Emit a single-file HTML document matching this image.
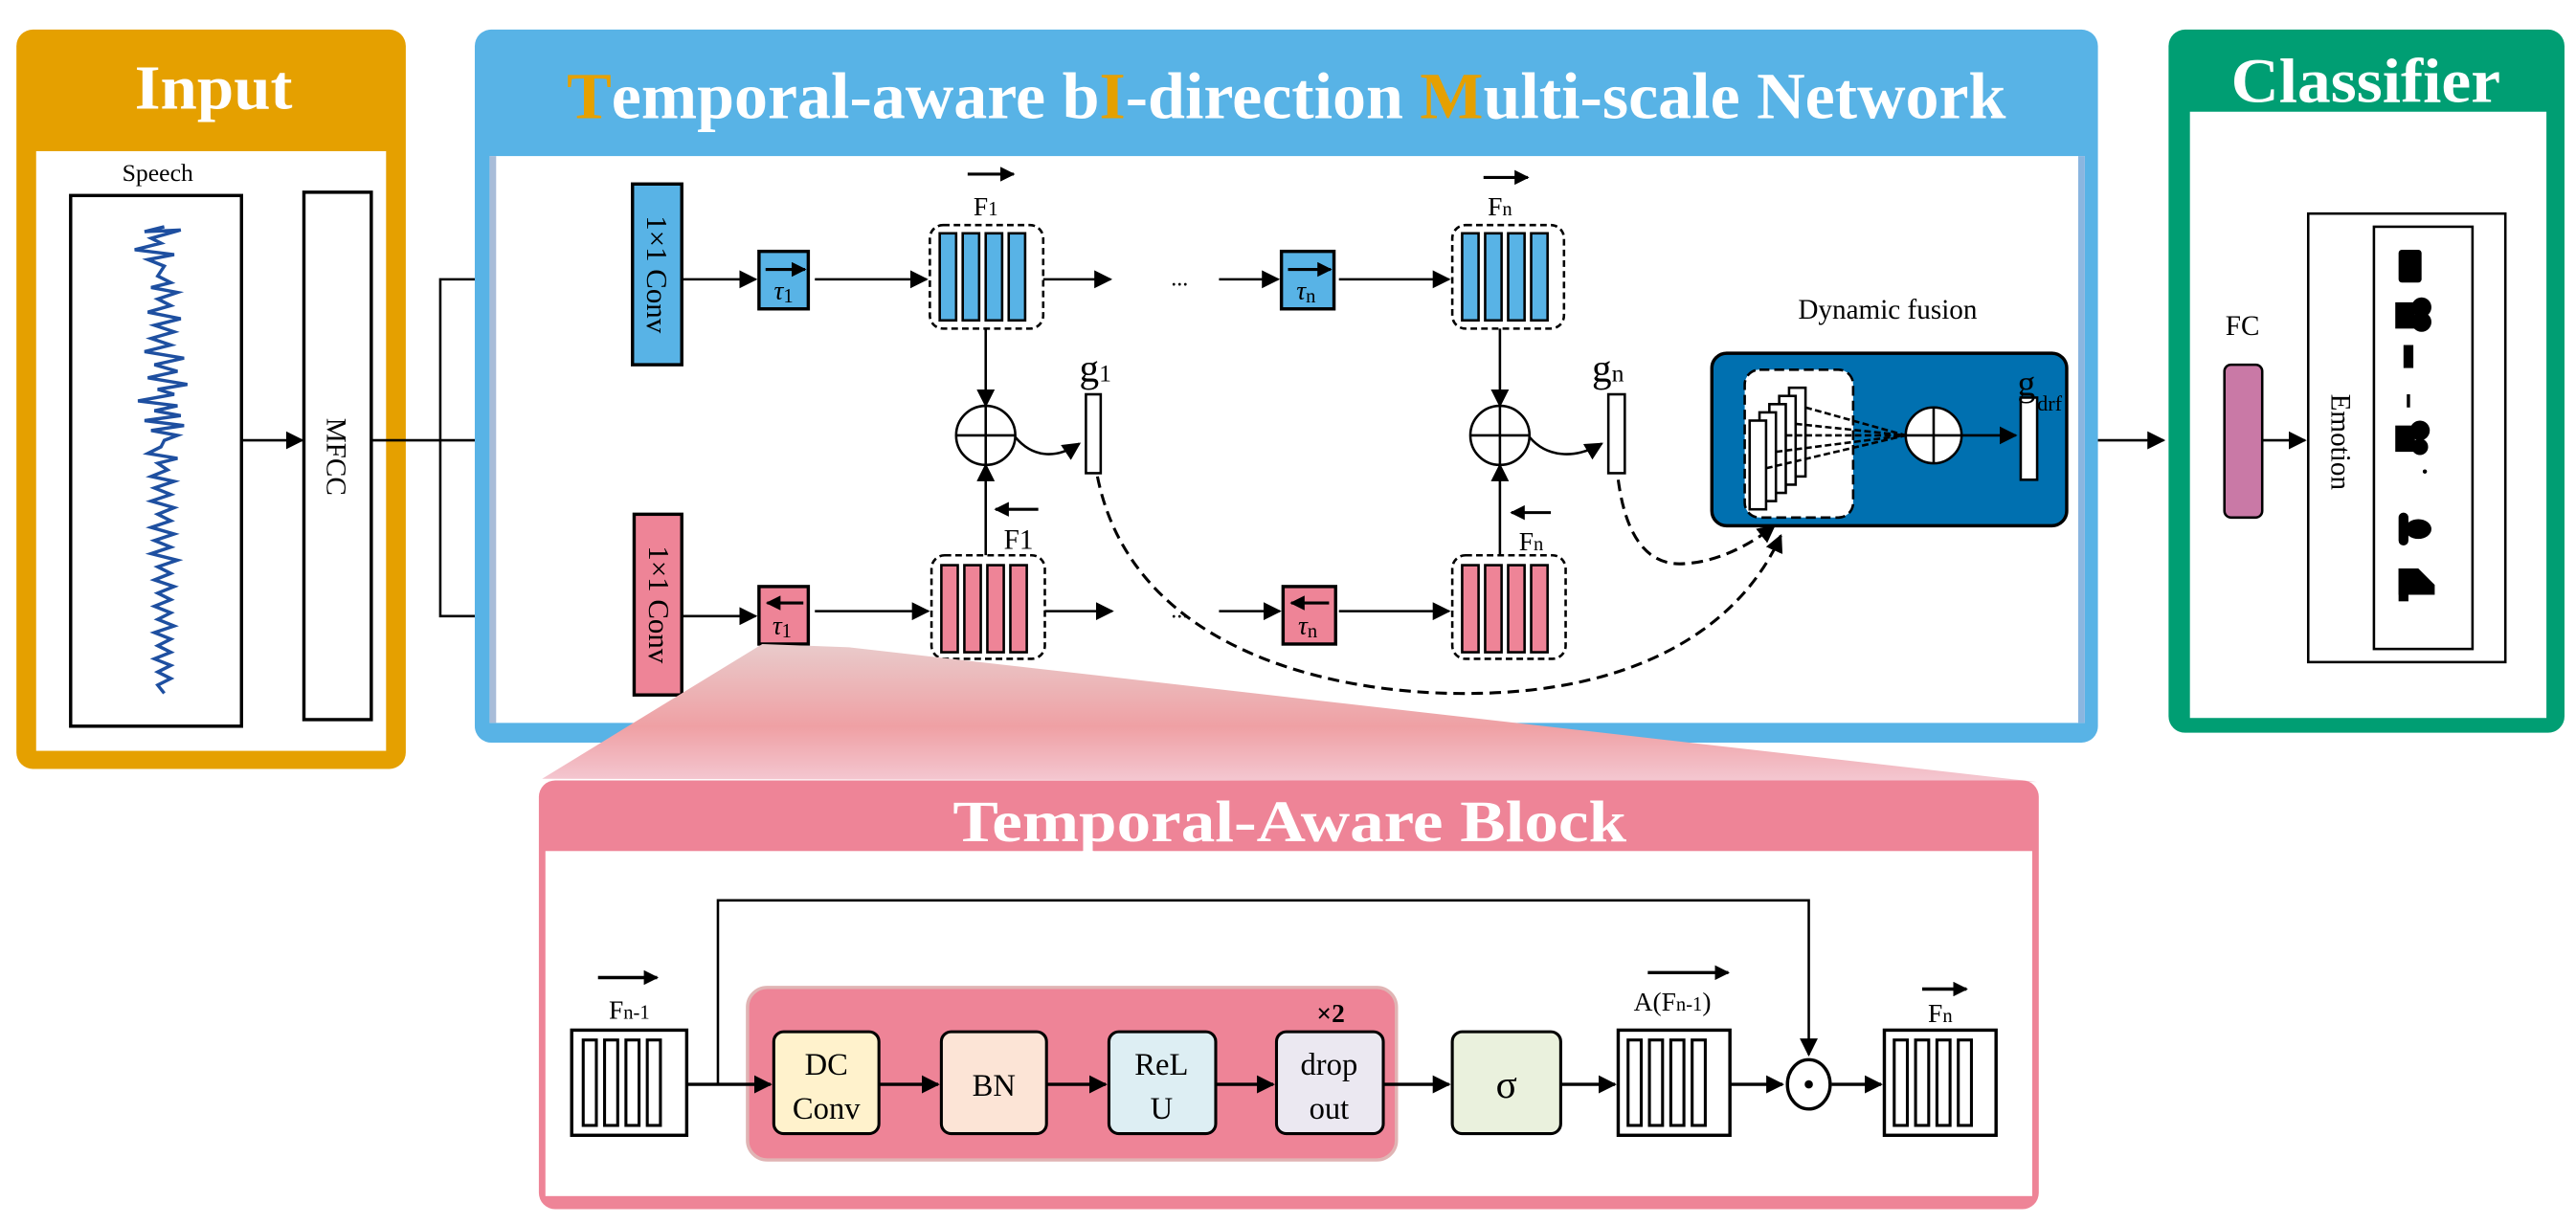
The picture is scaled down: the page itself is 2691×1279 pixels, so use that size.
<!DOCTYPE html>
<html><head><meta charset="utf-8"><style>
html,body{margin:0;padding:0;background:#fff;}
svg{display:block;}
text{font-family:"Liberation Serif",serif;}
</style></head><body>
<svg width="2691" height="1279" viewBox="0 0 1568 745" preserveAspectRatio="none" xmlns="http://www.w3.org/2000/svg">
<defs>
<marker id="a" viewBox="0 0 10 10" refX="9" refY="5" markerWidth="9" markerHeight="9" orient="auto-start-reverse" markerUnits="userSpaceOnUse"><path d="M0,0 L10,5 L0,10 z" fill="#000"/></marker>
<marker id="A" viewBox="0 0 10 10" refX="9" refY="5" markerWidth="11" markerHeight="11" orient="auto" markerUnits="userSpaceOnUse"><path d="M0,0 L10,5 L0,10 z" fill="#000"/></marker>
<linearGradient id="tg" x1="0" y1="0" x2="0" y2="1"><stop offset="0" stop-color="#E9CBCB"/><stop offset="0.6" stop-color="#EFA0A4"/><stop offset="1" stop-color="#F4C8D2"/></linearGradient>
</defs>

<!-- Input panel -->
<rect x="10" y="18" width="237" height="450" rx="10" fill="#E5A000"/>
<rect x="22" y="92" width="213" height="365" fill="#fff"/>
<text x="82" y="66" font-size="38" font-weight="bold" fill="#fff" textLength="96" lengthAdjust="spacingAndGlyphs">Input</text>
<text x="96" y="110" font-size="15" text-anchor="middle">Speech</text>
<rect x="43" y="119" width="104" height="323" fill="#fff" stroke="#000" stroke-width="2"/>
<polyline fill="none" stroke="#1E4FA0" stroke-width="2" points="100,138 88,141 110,140 92,145 98,148 82,152 106,155 90,158 100,162 96,168 104,172 92,175 108,178 96,182 104,186 90,190 110,194 94,198 106,202 92,206 104,210 88,214 112,218 94,222 108,226 90,230 114,234 96,237 106,240 84,244 108,247 94,250 110,253 88,256 112,259 92,262 108,265 100,268 98,272 90,276 108,279 96,282 102,286 92,290 106,293 94,297 104,301 92,305 106,309 96,313 104,317 92,321 106,325 94,329 104,333 92,337 108,341 96,345 104,349 94,353 106,357 96,361 104,365 94,369 104,373 96,377 106,381 94,385 104,389 96,393 104,397 94,401 104,405 96,409 104,413 96,417 100,422"/>
<rect x="185" y="117" width="41" height="321" fill="#fff" stroke="#000" stroke-width="2"/>
<text transform="translate(199,278) rotate(90)" font-size="17" text-anchor="middle">MFCC</text>
<line x1="147" y1="268" x2="184" y2="268" stroke="#000" stroke-width="1.5" marker-end="url(#A)"/>
<polyline points="226,268 290,268" fill="none" stroke="#000" stroke-width="1.5"/>
<polyline points="268,268 268,170 383,170" fill="none" stroke="#000" stroke-width="1.5" marker-end="url(#A)"/>
<polyline points="268,268 268,375 383,375" fill="none" stroke="#000" stroke-width="1.5" marker-end="url(#A)"/>

<!-- TIM panel -->
<rect x="289" y="18" width="988" height="434" rx="10" fill="#58B3E6"/>
<rect x="298" y="95" width="971" height="345" fill="#fff"/>
<rect x="298" y="95" width="4" height="345" fill="#A8BCD8"/>
<rect x="1265" y="95" width="4" height="345" fill="#8AB6E0"/>
<text x="345" y="72" font-size="40" font-weight="bold" fill="#fff" textLength="876" lengthAdjust="spacingAndGlyphs"><tspan fill="#E5A000">T</tspan>emporal-aware b<tspan fill="#E5A000">I</tspan>-direction <tspan fill="#E5A000">M</tspan>ulti-scale Network</text>

<!-- top row -->
<rect x="385" y="112" width="30" height="110" fill="#58B3E6" stroke="#000" stroke-width="2"/>
<text transform="translate(394,167) rotate(90)" font-size="18" text-anchor="middle">1×1 Conv</text>
<line x1="415" y1="170" x2="460" y2="170" stroke="#000" stroke-width="1.5" marker-end="url(#A)"/>
<rect x="462" y="153" width="30" height="35" fill="#58B3E6" stroke="#000" stroke-width="2"/>
<line x1="466" y1="164" x2="490" y2="164" stroke="#000" stroke-width="1.8" marker-end="url(#a)"/>
<text x="477" y="182" font-size="16" font-style="italic" text-anchor="middle">τ<tspan font-size="12" font-style="normal" dy="2">1</tspan></text>
<line x1="496" y1="170" x2="564" y2="170" stroke="#000" stroke-width="1.5" marker-end="url(#A)"/>
<rect x="566" y="137" width="69" height="63" rx="8" fill="#fff" stroke="#000" stroke-width="1.5" stroke-dasharray="4,2.5"/>
<g fill="#58B3E6" stroke="#000" stroke-width="1.5"><rect x="572" y="142" width="10" height="53"/><rect x="586" y="142" width="10" height="53"/><rect x="600" y="142" width="10" height="53"/><rect x="614" y="142" width="10" height="53"/></g>
<line x1="589" y1="106" x2="617" y2="106" stroke="#000" stroke-width="1.8" marker-end="url(#a)"/>
<text x="600" y="131" font-size="16" text-anchor="middle">F<tspan font-size="12">1</tspan></text>
<line x1="635" y1="170" x2="676" y2="170" stroke="#000" stroke-width="1.5" marker-end="url(#A)"/>
<text x="718" y="174" font-size="14" text-anchor="middle">...</text>
<line x1="742" y1="170" x2="778" y2="170" stroke="#000" stroke-width="1.5" marker-end="url(#A)"/>
<rect x="780" y="153" width="32" height="35" fill="#58B3E6" stroke="#000" stroke-width="2"/>
<line x1="784" y1="164" x2="810" y2="164" stroke="#000" stroke-width="1.8" marker-end="url(#a)"/>
<text x="795" y="182" font-size="16" font-style="italic" text-anchor="middle">τ<tspan font-size="12" font-style="normal" dy="2">n</tspan></text>
<line x1="815" y1="170" x2="882" y2="170" stroke="#000" stroke-width="1.5" marker-end="url(#A)"/>
<rect x="884" y="137" width="68" height="63" rx="8" fill="#fff" stroke="#000" stroke-width="1.5" stroke-dasharray="4,2.5"/>
<g fill="#58B3E6" stroke="#000" stroke-width="1.5"><rect x="890" y="142" width="10" height="53"/><rect x="904" y="142" width="10" height="53"/><rect x="918" y="142" width="10" height="53"/><rect x="932" y="142" width="10" height="53"/></g>
<line x1="903" y1="108" x2="930" y2="108" stroke="#000" stroke-width="1.8" marker-end="url(#a)"/>
<text x="913" y="131" font-size="16" text-anchor="middle">F<tspan font-size="12">n</tspan></text>

<!-- merges -->
<g stroke="#000" stroke-width="1.5" fill="none">
<line x1="600" y1="200" x2="600" y2="247" marker-end="url(#A)"/>
<line x1="600" y1="338" x2="600" y2="283" marker-end="url(#A)"/>
<ellipse cx="600" cy="265" rx="18" ry="18" fill="#fff"/>
<line x1="582" y1="265" x2="618" y2="265"/><line x1="600" y1="247" x2="600" y2="283"/>
<path d="M618,266 C628,278 642,280 657,270" marker-end="url(#A)"/>
<line x1="913" y1="200" x2="913" y2="247" marker-end="url(#A)"/>
<line x1="913" y1="338" x2="913" y2="283" marker-end="url(#A)"/>
<ellipse cx="913" cy="265" rx="18" ry="18" fill="#fff"/>
<line x1="895" y1="265" x2="931" y2="265"/><line x1="913" y1="247" x2="913" y2="283"/>
<path d="M931,266 C941,278 958,280 975,270" marker-end="url(#A)"/>
</g>
<rect x="661" y="240" width="9" height="48" fill="#fff" stroke="#000" stroke-width="1.5"/>
<text x="657" y="232" font-size="24">g<tspan font-size="15">1</tspan></text>
<rect x="979" y="240" width="10" height="48" fill="#fff" stroke="#000" stroke-width="1.5"/>
<text x="969" y="232" font-size="24">g<tspan font-size="15">n</tspan></text>

<!-- bottom row -->
<rect x="386" y="313" width="29" height="110" fill="#EE8497" stroke="#000" stroke-width="2"/>
<text transform="translate(395,368) rotate(90)" font-size="18" text-anchor="middle">1×1 Conv</text>
<line x1="415" y1="375" x2="460" y2="375" stroke="#000" stroke-width="1.5" marker-end="url(#A)"/>
<rect x="462" y="357" width="30" height="35" fill="#EE8497" stroke="#000" stroke-width="2"/>
<line x1="489" y1="367" x2="467" y2="367" stroke="#000" stroke-width="1.8" marker-end="url(#a)"/>
<text x="476" y="386" font-size="16" font-style="italic" text-anchor="middle">τ<tspan font-size="12" font-style="normal" dy="2">1</tspan></text>
<line x1="496" y1="372" x2="565" y2="372" stroke="#000" stroke-width="1.5" marker-end="url(#A)"/>
<rect x="567" y="338" width="69" height="63" rx="8" fill="#fff" stroke="#000" stroke-width="1.5" stroke-dasharray="4,2.5"/>
<g fill="#EE8497" stroke="#000" stroke-width="1.5"><rect x="573" y="344" width="10" height="53"/><rect x="587" y="344" width="10" height="53"/><rect x="601" y="344" width="10" height="53"/><rect x="615" y="344" width="10" height="53"/></g>
<line x1="632" y1="310" x2="606" y2="310" stroke="#000" stroke-width="1.8" marker-end="url(#a)"/>
<text x="620" y="334" font-size="17" text-anchor="middle">F1</text>
<line x1="636" y1="372" x2="677" y2="372" stroke="#000" stroke-width="1.5" marker-end="url(#A)"/>
<text x="718" y="376" font-size="14" text-anchor="middle">...</text>
<line x1="742" y1="372" x2="779" y2="372" stroke="#000" stroke-width="1.5" marker-end="url(#A)"/>
<rect x="781" y="357" width="32" height="35" fill="#EE8497" stroke="#000" stroke-width="2"/>
<line x1="809" y1="367" x2="786" y2="367" stroke="#000" stroke-width="1.8" marker-end="url(#a)"/>
<text x="796" y="386" font-size="16" font-style="italic" text-anchor="middle">τ<tspan font-size="12" font-style="normal" dy="2">n</tspan></text>
<line x1="815" y1="372" x2="882" y2="372" stroke="#000" stroke-width="1.5" marker-end="url(#A)"/>
<rect x="884" y="338" width="69" height="63" rx="8" fill="#fff" stroke="#000" stroke-width="1.5" stroke-dasharray="4,2.5"/>
<g fill="#EE8497" stroke="#000" stroke-width="1.5"><rect x="890" y="344" width="10" height="53"/><rect x="904" y="344" width="10" height="53"/><rect x="918" y="344" width="10" height="53"/><rect x="932" y="344" width="10" height="53"/></g>
<line x1="944" y1="312" x2="920" y2="312" stroke="#000" stroke-width="1.8" marker-end="url(#a)"/>
<text x="932" y="335" font-size="16" text-anchor="middle">F<tspan font-size="12">n</tspan></text>

<!-- dashed curves -->
<g fill="none" stroke="#000" stroke-width="1.8" stroke-dasharray="7,4">
<path d="M668,290 C690,400 820,424 900,422 C1000,420 1060,380 1084,326" marker-end="url(#A)"/>
<path d="M985,292 C990,330 1005,345 1026,343 C1045,342 1065,332 1080,320" marker-end="url(#A)"/>
</g>

<!-- Dynamic fusion -->
<text x="1149" y="194" font-size="17" text-anchor="middle">Dynamic fusion</text>
<rect x="1042" y="215" width="216" height="105" rx="9" fill="#0070B0" stroke="#000" stroke-width="2"/>
<rect x="1062" y="225" width="66" height="90" rx="9" fill="#fff" stroke="#000" stroke-width="1.5" stroke-dasharray="6,3"/>
<g fill="#fff" stroke="#000" stroke-width="1.5">
<rect x="1089" y="236" width="10" height="54"/><rect x="1083" y="241" width="10" height="54"/><rect x="1077" y="246" width="10" height="54"/><rect x="1071" y="251" width="10" height="54"/><rect x="1065" y="256" width="10" height="54"/>
</g>
<g stroke="#000" stroke-width="1.5" stroke-dasharray="4,2" fill="none">
<line x1="1099" y1="248" x2="1160" y2="265"/><line x1="1093" y1="258" x2="1160" y2="265"/><line x1="1087" y1="265" x2="1160" y2="265"/><line x1="1081" y1="275" x2="1160" y2="265"/><line x1="1075" y1="285" x2="1160" y2="265"/>
</g>
<circle cx="1177" cy="265" r="17" fill="#fff" stroke="#000" stroke-width="1.5"/>
<line x1="1160" y1="265" x2="1194" y2="265" stroke="#000" stroke-width="1.5"/>
<line x1="1177" y1="248" x2="1177" y2="282" stroke="#000" stroke-width="1.5"/>
<line x1="1194" y1="265" x2="1227" y2="265" stroke="#000" stroke-width="1.5" marker-end="url(#A)"/>
<rect x="1230" y="242" width="10" height="50" fill="#fff" stroke="#000" stroke-width="1.5"/>
<text x="1228" y="241" font-size="22">g</text><text x="1240" y="250" font-size="13">drf</text>

<line x1="1277" y1="268" x2="1317" y2="268" stroke="#000" stroke-width="1.5" marker-end="url(#A)"/>

<!-- Classifier -->
<rect x="1320" y="18" width="241" height="428" rx="10" fill="#009E73"/>
<rect x="1333" y="68" width="217" height="369" fill="#fff"/>
<text x="1358" y="62" font-size="38" font-weight="bold" fill="#fff" textLength="164" lengthAdjust="spacingAndGlyphs">Classifier</text>
<text x="1365" y="204" font-size="17" text-anchor="middle">FC</text>
<rect x="1354" y="222" width="23" height="93" rx="4" fill="#C979A6" stroke="#000" stroke-width="1.5"/>
<line x1="1377" y1="268" x2="1403" y2="268" stroke="#000" stroke-width="1.5" marker-end="url(#A)"/>
<rect x="1405" y="130" width="120" height="273" fill="#fff" stroke="#000" stroke-width="1.5"/>
<rect x="1445" y="138" width="60" height="257" fill="#fff" stroke="#000" stroke-width="1.5"/>
<text transform="translate(1419,269) rotate(90)" font-size="17" text-anchor="middle">Emotion</text>
<g fill="#000">
<rect x="1460" y="152" width="14" height="20" rx="2"/>
<rect x="1458" y="184" width="12" height="16"/><circle cx="1474" cy="187" r="6"/><circle cx="1474" cy="196" r="6"/>
<rect x="1463" y="210" width="6" height="14"/>
<rect x="1465" y="240" width="2" height="8"/>
<rect x="1458" y="259" width="12" height="16"/><circle cx="1473" cy="262" r="6"/><circle cx="1473" cy="272" r="5"/>
<circle cx="1476" cy="287" r="1.3"/>
<rect x="1460" y="312" width="6" height="20" rx="3"/><ellipse cx="1472" cy="322" rx="8" ry="6"/>
<rect x="1460" y="346" width="6" height="20"/><path d="M1460,346 L1472,346 L1482,356 L1482,362 L1460,362 z"/>
</g>

<!-- Trapezoid zoom -->
<polygon points="464,392 517,394 1240,476 330,474" fill="url(#tg)"/>

<!-- TAB panel -->
<rect x="328" y="475" width="913" height="261" rx="10" fill="#EE8497"/>
<rect x="332" y="518" width="905" height="210" fill="#fff"/>
<text x="580" y="512" font-size="36" font-weight="bold" fill="#fff" textLength="410" lengthAdjust="spacingAndGlyphs">Temporal-Aware Block</text>

<rect x="455" y="601" width="395" height="105" rx="12" fill="#EE8497" stroke="#E0B4B4" stroke-width="2"/>
<text x="810" y="622" font-size="16" font-weight="bold" text-anchor="middle">×2</text>
<polyline points="437,660 437,548 1101,548 1101,642" fill="none" stroke="#000" stroke-width="1.5" marker-end="url(#A)"/>

<rect x="348" y="627" width="70" height="64" fill="#fff" stroke="#000" stroke-width="2"/>
<g fill="#fff" stroke="#000" stroke-width="1.8"><rect x="355" y="633" width="8" height="52"/><rect x="368" y="633" width="8" height="52"/><rect x="381" y="633" width="8" height="52"/><rect x="394" y="633" width="8" height="52"/></g>
<line x1="364" y1="595" x2="400" y2="595" stroke="#000" stroke-width="2" marker-end="url(#a)"/>
<text x="383" y="620" font-size="16" text-anchor="middle">F<tspan font-size="12">n-1</tspan></text>

<g stroke="#000" stroke-width="2">
<line x1="418" y1="660" x2="469" y2="660" marker-end="url(#A)"/>
<line x1="535" y1="660" x2="571" y2="660" marker-end="url(#A)"/>
<line x1="637" y1="660" x2="673" y2="660" marker-end="url(#A)"/>
<line x1="740" y1="660" x2="775" y2="660" marker-end="url(#A)"/>
<line x1="842" y1="660" x2="882" y2="660" marker-end="url(#A)"/>
<line x1="950" y1="660" x2="983" y2="660" marker-end="url(#A)"/>
<line x1="1053" y1="660" x2="1085" y2="660" marker-end="url(#A)"/>
<line x1="1115" y1="660" x2="1145" y2="660" marker-end="url(#A)"/>
</g>
<rect x="471" y="628" width="64" height="62" rx="6" fill="#FFF2CC" stroke="#000" stroke-width="1.8"/>
<text x="503" y="654" font-size="19" text-anchor="middle">DC</text><text x="503" y="681" font-size="19" text-anchor="middle">Conv</text>
<rect x="573" y="628" width="64" height="62" rx="6" fill="#FCE4D6" stroke="#000" stroke-width="1.8"/>
<text x="605" y="667" font-size="19" text-anchor="middle">BN</text>
<rect x="675" y="628" width="65" height="62" rx="6" fill="#DDEEF3" stroke="#000" stroke-width="1.8"/>
<text x="707" y="654" font-size="19" text-anchor="middle">ReL</text><text x="707" y="681" font-size="19" text-anchor="middle">U</text>
<rect x="777" y="628" width="65" height="62" rx="6" fill="#EBE8F1" stroke="#000" stroke-width="1.8"/>
<text x="809" y="654" font-size="19" text-anchor="middle">drop</text><text x="809" y="681" font-size="19" text-anchor="middle">out</text>
<rect x="884" y="628" width="66" height="62" rx="6" fill="#EAF1DD" stroke="#000" stroke-width="1.8"/>
<text x="917" y="668" font-size="24" text-anchor="middle">σ</text>

<rect x="985" y="627" width="68" height="64" fill="#fff" stroke="#000" stroke-width="2"/>
<g fill="#fff" stroke="#000" stroke-width="1.8"><rect x="991" y="633" width="8" height="52"/><rect x="1004" y="633" width="8" height="52"/><rect x="1017" y="633" width="8" height="52"/><rect x="1030" y="633" width="8" height="52"/></g>
<line x1="1003" y1="592" x2="1052" y2="592" stroke="#000" stroke-width="2" marker-end="url(#a)"/>
<text x="1018" y="615" font-size="16" text-anchor="middle">A(F<tspan font-size="12">n-1</tspan>)</text>

<ellipse cx="1101" cy="660" rx="13" ry="15" fill="#fff" stroke="#000" stroke-width="2"/>
<circle cx="1101" cy="660" r="2.5" fill="#000"/>

<rect x="1147" y="627" width="68" height="64" fill="#fff" stroke="#000" stroke-width="2"/>
<g fill="#fff" stroke="#000" stroke-width="1.8"><rect x="1153" y="633" width="8" height="52"/><rect x="1166" y="633" width="8" height="52"/><rect x="1179" y="633" width="8" height="52"/><rect x="1192" y="633" width="8" height="52"/></g>
<line x1="1170" y1="602" x2="1197" y2="602" stroke="#000" stroke-width="2" marker-end="url(#a)"/>
<text x="1181" y="622" font-size="16" text-anchor="middle">F<tspan font-size="12">n</tspan></text>
</svg>
</body></html>
